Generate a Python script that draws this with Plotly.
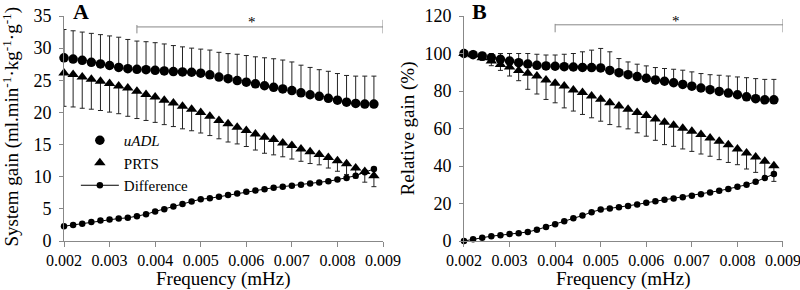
import plotly.graph_objects as go

# ---------------- data ----------------
freq = [0.0020, 0.0022, 0.0024, 0.0026, 0.0028, 0.0030, 0.0032, 0.0034, 0.0036, 0.0038,
        0.0040, 0.0042, 0.0044, 0.0046, 0.0048, 0.0050, 0.0052, 0.0054, 0.0056, 0.0058,
        0.0060, 0.0062, 0.0064, 0.0066, 0.0068, 0.0070, 0.0072, 0.0074, 0.0076, 0.0078,
        0.0080, 0.0082, 0.0084, 0.0086, 0.0088]
x_ticks = [0.002, 0.003, 0.004, 0.005, 0.006, 0.007, 0.008, 0.009]
x_ticktext = ["0.002", "0.003", "0.004", "0.005", "0.006", "0.007", "0.008", "0.009"]

# Panel A: system gain
a_uadl = [28.5, 28.3, 28.1, 27.8, 27.55, 27.3, 27.0, 26.8, 26.7, 26.65, 26.55, 26.45, 26.35, 26.3, 26.25,
          26.1, 25.85, 25.5, 25.25, 24.95, 24.7, 24.45, 24.15, 23.9, 23.65, 23.4, 23.05, 22.75, 22.5, 22.2,
          21.9, 21.6, 21.4, 21.3, 21.3]
a_uadl_sd = [4.4, 4.4, 4.4, 4.5, 4.55, 4.6, 4.7, 4.55, 4.4, 4.35, 4.3, 4.2, 4.05, 3.9, 3.75,
             3.75, 3.85, 3.85, 3.9, 4.1, 4.15, 4.2, 4.35, 4.45, 4.5, 4.45, 4.3, 4.25, 4.15, 4.2,
             4.15, 4.15, 4.25, 4.35, 4.35]
a_prts = [26.15, 25.9, 25.5, 25.15, 24.85, 24.5, 24.1, 23.8, 23.3, 22.8, 22.4, 21.9, 21.45, 20.95, 20.5,
          20.0, 19.4, 18.75, 18.25, 17.7, 17.2, 16.65, 16.15, 15.8, 15.25, 14.85, 14.3, 13.9, 13.45, 13.0,
          12.5, 12.0, 11.35, 10.8, 10.15]
a_prts_sd = [5.2, 5.05, 4.85, 4.65, 4.55, 4.45, 4.3, 4.4, 4.25, 4.05, 3.95, 3.8, 3.65, 3.5, 3.35,
             3.2, 3.0, 2.85, 2.85, 2.6, 2.5, 2.5, 2.5, 2.4, 2.15, 2.1, 1.9, 1.85, 1.6, 1.65,
             1.65, 1.65, 1.55, 1.65, 1.7]
a_diff = [2.3, 2.5, 2.7, 2.95, 3.2, 3.35, 3.5, 3.6, 3.85, 4.15, 4.6, 4.95, 5.35, 5.75, 6.15,
          6.5, 6.65, 6.9, 7.15, 7.4, 7.65, 7.85, 8.05, 8.3, 8.45, 8.6, 8.75, 8.95, 9.1, 9.3,
          9.55, 9.8, 10.15, 10.7, 11.2]

# Panel B: relative gain (%)
b_uadl = [100, 99.4, 98.7, 97.8, 96.9, 96.0, 95.1, 94.4, 93.7, 93.4, 93.2, 93.0, 92.8, 92.6, 92.5,
          92.3, 91.0, 89.8, 88.7, 87.7, 86.8, 85.9, 85.2, 84.4, 83.5, 82.6, 81.6, 80.7, 79.8, 78.9,
          78.0, 76.9, 75.9, 75.3, 75.3]
b_uadl_sd = [0, 0.7, 0.9, 2.2, 3.1, 4.0, 4.9, 5.6, 5.9, 5.8, 6.0, 6.6, 7.2, 8.3, 9.3,
             10.4, 9.9, 7.5, 6.8, 6.6, 6.6, 6.6, 6.8, 7.2, 7.6, 7.6, 7.7, 8.0, 8.6, 9.1,
             9.5, 10.2, 10.7, 10.9, 10.9]
b_prts = [100, 99.3, 97.8, 96.0, 94.2, 92.8, 91.0, 89.5, 88.0, 85.9, 84.2, 82.7, 80.6, 79.2, 77.3,
          75.6, 73.8, 72.0, 70.3, 68.6, 66.9, 65.1, 63.4, 61.8, 60.2, 58.6, 56.8, 55.0, 53.2, 51.4,
          49.1, 47.0, 44.8, 42.5, 40.2]
b_prts_sd = [0, 0.8, 1.5, 2.5, 3.2, 4.8, 5.5, 8.6, 9.6, 10.4, 10.5, 11.7, 11.3, 11.7, 11.6,
             11.7, 11.7, 11.1, 10.5, 10.9, 11.0, 11.4, 12.0, 11.3, 11.1, 10.8, 10.4, 9.8, 9.8, 9.5,
             8.4, 8.6, 8.2, 8.4, 8.4]
b_diff = [0.0, 0.9, 1.8, 2.6, 3.1, 3.7, 4.1, 4.8, 6.0, 7.5, 8.9, 10.5, 12.1, 13.6, 15.4,
          16.8, 17.4, 18.0, 18.7, 19.5, 20.4, 21.2, 22.0, 22.7, 23.4, 24.1, 25.0, 25.9, 26.8, 27.8,
          28.9, 30.0, 31.6, 33.6, 35.7]

zeros = [0] * len(freq)
SERIF = "Liberation Serif"
AXC = "#888888"

fig = go.Figure()


def add_panel(xa, ya, uadl, uadl_sd, prts, prts_sd, diff, show):
    fig.add_trace(go.Scatter(
        x=freq, y=prts, mode="markers", name="PRTS", xaxis=xa, yaxis=ya,
        marker=dict(symbol="triangle-up", size=10, color="black"),
        error_y=dict(type="data", symmetric=False, array=zeros, arrayminus=prts_sd,
                     color="#222", thickness=1, width=2.5),
        cliponaxis=False, showlegend=show, legendrank=2))
    fig.add_trace(go.Scatter(
        x=freq, y=diff, mode="lines+markers", name="Difference", xaxis=xa, yaxis=ya,
        line=dict(color="black", width=1),
        marker=dict(symbol="circle", size=6.5, color="black"),
        cliponaxis=False, showlegend=show, legendrank=3))
    fig.add_trace(go.Scatter(
        x=freq, y=uadl, mode="markers", name="<i>uADL</i>", xaxis=xa, yaxis=ya,
        marker=dict(symbol="circle", size=9.5, color="black"),
        error_y=dict(type="data", symmetric=False, array=uadl_sd, arrayminus=zeros,
                     color="#222", thickness=1, width=2.5),
        cliponaxis=False, showlegend=show, legendrank=1))


add_panel("x", "y", a_uadl, a_uadl_sd, a_prts, a_prts_sd, a_diff, True)
add_panel("x2", "y2", b_uadl, b_uadl_sd, b_prts, b_prts_sd, b_diff, False)

xcommon = dict(range=[0.002, 0.009], tickvals=x_ticks, ticktext=x_ticktext,
               showline=True, linecolor=AXC, linewidth=1, ticks="outside", ticklen=5,
               tickcolor=AXC, showgrid=False, zeroline=False, automargin=False,
               tickfont=dict(family=SERIF, size=16, color="black"),
               ticklabeloverflow="allow")
ycommon = dict(showline=True, linecolor=AXC, linewidth=1, ticks="outside", ticklen=4,
               tickcolor=AXC, showgrid=False, zeroline=False, automargin=False,
               tickfont=dict(family=SERIF, size=18, color="black"), ticklabelstandoff=4)

title_font = dict(family=SERIF, size=19, color="black")

fig.update_layout(
    width=800, height=290,
    margin=dict(l=64, r=17, t=16, b=49),
    paper_bgcolor="white", plot_bgcolor="white",
    font=dict(family=SERIF, color="black"),
    xaxis=dict(domain=[0, 0.4437], anchor="y", **xcommon),
    xaxis2=dict(domain=[0.5563, 1], anchor="y2", **xcommon),
    yaxis=dict(range=[0, 35], tickvals=[0, 5, 10, 15, 20, 25, 30, 35], anchor="x", **ycommon),
    yaxis2=dict(range=[0, 120], tickvals=[0, 20, 40, 60, 80, 100, 120], anchor="x2", **ycommon),
    legend=dict(x=0.0165, y=0.52, xanchor="left", yanchor="top",
                font=dict(family=SERIF, size=15, color="black"),
                bgcolor="rgba(0,0,0,0)", tracegroupgap=0, itemwidth=38),
    shapes=[
        # panel A significance bracket
        dict(type="line", xref="x", yref="y", x0=0.0036, x1=0.009, y0=33.3, y1=33.3,
             line=dict(color=AXC, width=1)),
        dict(type="line", xref="x", yref="y", x0=0.0036, x1=0.0036, y0=32.3, y1=33.6,
             line=dict(color=AXC, width=1)),
        dict(type="line", xref="x", yref="y", x0=0.009, x1=0.009, y0=32.3, y1=34.4,
             line=dict(color=AXC, width=1)),
        # panel B significance bracket
        dict(type="line", xref="x2", yref="y2", x0=0.004, x1=0.009, y0=115.3, y1=115.3,
             line=dict(color=AXC, width=1)),
        dict(type="line", xref="x2", yref="y2", x0=0.004, x1=0.004, y0=111.3, y1=115.8,
             line=dict(color=AXC, width=1)),
        dict(type="line", xref="x2", yref="y2", x0=0.009, x1=0.009, y0=111.3, y1=118.4,
             line=dict(color=AXC, width=1)),
    ],
    annotations=[
        # axis titles
        dict(text="Frequency (mHz)", xref="x domain", yref="y domain", x=0.5, y=0,
             yshift=-38, showarrow=False, xanchor="center", yanchor="middle", font=title_font),
        dict(text="Frequency (mHz)", xref="x2 domain", yref="y2 domain", x=0.5, y=0,
             yshift=-38, showarrow=False, xanchor="center", yanchor="middle", font=title_font),
        dict(text="System gain (ml.min<sup>-1</sup>·kg<sup>-1</sup>·g<sup>-1</sup>)",
             xref="x domain", yref="y domain", x=0, y=0.5, yshift=2, xshift=-53, textangle=-90,
             showarrow=False, xanchor="center", yanchor="middle", font=title_font),
        dict(text="Relative gain (%)",
             xref="x2 domain", yref="y2 domain", x=0, y=0.5, xshift=-56, textangle=-90,
             showarrow=False, xanchor="center", yanchor="middle", font=title_font),
        # panel letters
        dict(text="<b>A</b>", xref="x domain", yref="y domain", x=0.053, y=1.02,
             showarrow=False, xanchor="center", yanchor="middle",
             font=dict(family=SERIF, size=22, color="black")),
        dict(text="<b>B</b>", xref="x2 domain", yref="y2 domain", x=0.05, y=1.02,
             showarrow=False, xanchor="center", yanchor="middle",
             font=dict(family=SERIF, size=22, color="black")),
        # significance stars
        dict(text="*", xref="x", yref="y", x=0.00612, y=34.0,
             showarrow=False, xanchor="center", yanchor="middle",
             font=dict(family=SERIF, size=15, color="black")),
        dict(text="*", xref="x2", yref="y2", x=0.00665, y=117.5,
             showarrow=False, xanchor="center", yanchor="middle",
             font=dict(family=SERIF, size=15, color="black")),
    ],
)

fig.write_html("out.html", config={"displayModeBar": False},
               post_script="document.body.style.margin='0';document.body.style.overflow='hidden';")
